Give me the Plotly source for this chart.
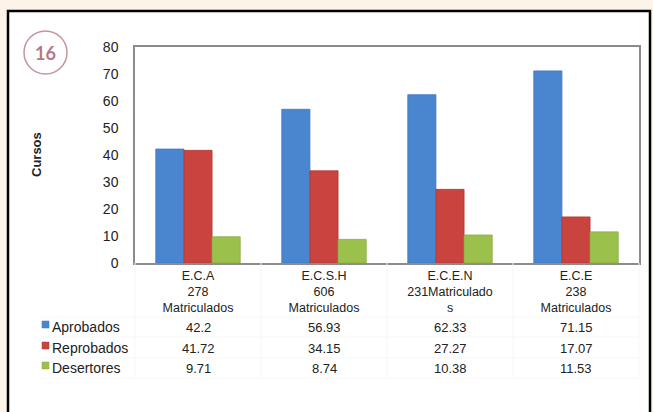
import plotly.graph_objects as go

categories = ["E.C.A<br>278<br>Matriculados", "E.C.S.H<br>606<br>Matriculados",
              "E.C.E.N<br>231Matriculado<br>s", "E.C.E<br>238<br>Matriculados"]
series_names = ["Aprobados", "Reprobados", "Desertores"]
aprobados = [42.2, 56.93, 62.33, 71.15]
reprobados = [41.72, 34.15, 27.27, 17.07]
desertores = [9.71, 8.74, 10.38, 11.53]
value_labels = [["42.2", "56.93", "62.33", "71.15"],
                ["41.72", "34.15", "27.27", "17.07"],
                ["9.71", "8.74", "10.38", "11.53"]]
y_ticks = [0, 10, 20, 30, 40, 50, 60, 70, 80]

colors = ["#4a86d0", "#c9433f", "#9cc04c"]
edge = ["#3f78be", "#b23a36", "#8aab42"]

W, H = 653, 412
ML, MR, MT, MB = 135, 14, 47, 149
PW, PH = W - ML - MR, H - MT - MB

def px_x(x):
    return (x - ML) / PW

def px_y(y):
    return (H - MB - y) / PH

fig = go.Figure()
for name, vals, c, e in zip(series_names, [aprobados, reprobados, desertores], colors, edge):
    fig.add_trace(go.Bar(x=categories, y=vals, name=name, marker_color=c,
                         marker_line_color=e, marker_line_width=0.8, showlegend=False))

shapes = [
    dict(type="rect", xref="paper", yref="paper", x0=px_x(8), x1=px_x(650),
         y0=px_y(11), y1=px_y(420), fillcolor="white", line=dict(color="black", width=2.5),
         layer="below"),
    dict(type="circle", xref="paper", yref="paper", x0=px_x(24), x1=px_x(67),
         y0=px_y(31), y1=px_y(74), line=dict(color="#c4959a", width=1.5)),
]
# faint table grid
for xb in [135, 261, 387, 513, 639]:
    shapes.append(dict(type="line", xref="paper", yref="paper", x0=px_x(xb), x1=px_x(xb),
                       y0=px_y(263), y1=px_y(378), line=dict(color="#f7f7f7", width=1)))
for yb in [317, 337, 358, 378]:
    shapes.append(dict(type="line", xref="paper", yref="paper", x0=px_x(38), x1=px_x(639),
                       y0=px_y(yb), y1=px_y(yb), line=dict(color="#f7f7f7", width=1)))

annotations = [
    dict(text="<b>16</b>", x=px_x(45.5), y=px_y(53), xref="paper", yref="paper",
         xanchor="center", yanchor="middle",
         showarrow=False, font=dict(family="Lato", size=18, color="#b9787f")),
    dict(text="<b>Cursos</b>", x=px_x(36), y=px_y(155), xref="paper", yref="paper",
         xanchor="center", yanchor="middle",
         textangle=-90, showarrow=False, font=dict(family="Liberation Sans", size=13, color="#222")),
]
row_y = [327, 348, 368]
for i, name in enumerate(series_names):
    yy = row_y[i]
    shapes.append(dict(type="rect", xref="paper", yref="paper", x0=px_x(42), x1=px_x(49),
                       y0=px_y(yy - 6), y1=px_y(yy + 1), fillcolor=colors[i],
                       line=dict(color=edge[i], width=0.5)))
    annotations.append(dict(text=name, x=px_x(49.5), y=px_y(yy), xref="paper", yref="paper",
                            xanchor="left", yanchor="middle", showarrow=False,
                            font=dict(family="Liberation Sans", size=14, color="#222")))
    for j, cat in enumerate(categories):
        annotations.append(dict(text=value_labels[i][j], x=cat, xref="x", y=px_y(yy),
                                yref="paper", xanchor="center", yanchor="middle", showarrow=False,
                                font=dict(family="Liberation Sans", size=13, color="#222")))

fig.update_layout(
    width=W, height=H,
    margin=dict(l=ML, r=MR, t=MT, b=MB),
    paper_bgcolor="#fcf4e8", plot_bgcolor="white",
    barmode="group", bargap=0.33, bargroupgap=0,
    font=dict(family="Liberation Sans", size=13, color="#222"),
    shapes=shapes, annotations=annotations,
    xaxis=dict(showline=True, linecolor="#8c8c8c", linewidth=1.5, mirror=True,
               ticks="", showgrid=False, ticklabelstandoff=0,
               tickfont=dict(size=12.5, color="#222")),
    yaxis=dict(range=[0, 80], tickvals=y_ticks, showline=True, linecolor="#8c8c8c",
               linewidth=1.5, mirror=True, showgrid=False, ticks="", ticklabelstandoff=12,
               tickfont=dict(size=14, color="#222"), zeroline=False),
)
fig.write_html("out.html", config={"displayModeBar": False},
               post_script="document.body.style.margin='0';document.body.style.background='#fcf4e8';")
